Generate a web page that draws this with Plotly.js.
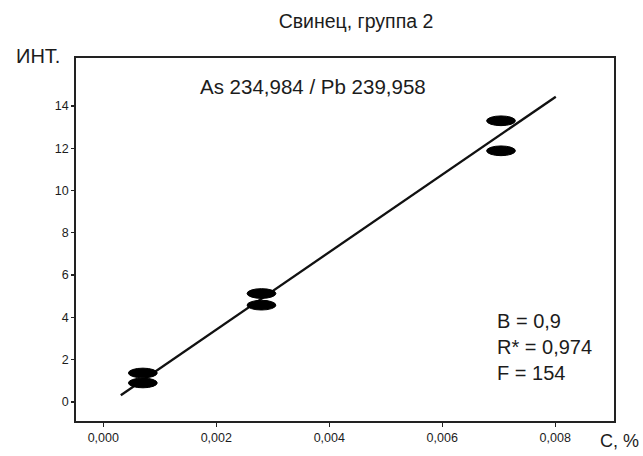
<!DOCTYPE html>
<html>
<head>
<meta charset="utf-8">
<script src="https://cdn.plot.ly/plotly-3.0.1.min.js"></script>
<style>
html,body{margin:0;padding:0;background:#fff;}
#chart{width:643px;height:456px;}
</style>
</head>
<body>
<div id="chart"></div>
<script>
// ---- data ----
const concX = [0.0007, 0.0007, 0.0028, 0.0028, 0.00704, 0.00704];   // C, %
const intY  = [1.37, 0.90, 5.13, 4.58, 13.30, 11.88];             // ИНТ.
const fitX  = [0.00031, 0.00801];                                // regression line ends
const fitY  = [0.32, 14.44];
const xTickVals = [0, 0.002, 0.004, 0.006, 0.008];
const xTickText = ['0,000', '0,002', '0,004', '0,006', '0,008'];
const yTickVals = [0, 2, 4, 6, 8, 10, 12, 14];
const yTickText = ['0', '2', '4', '6', '8', '10', '12', '14'];
const titleText = 'Свинец, группа 2';
const yLabel = 'ИНТ.';
const xLabel = 'C, %';
const lineLabel = 'As 234,984 / Pb 239,958';
const statLines = ['B = 0,9', 'R* = 0,974', 'F = 154'];

// ---- styling ----
const FONT = 'Liberation Sans, Arial, sans-serif';
const INK = '#1c1c1c';
const ELL_HALF_W = 0.000255;  // ellipse marker half-width (data units of x)
const ELL_HALF_H = 0.23;      // ellipse marker half-height (data units of y)

const traces = [
  {
    x: fitX, y: fitY, type: 'scatter', mode: 'lines',
    line: {color: '#111', width: 2.3}, hoverinfo: 'skip', showlegend: false
  },
  {
    x: concX, y: intY, type: 'scatter', mode: 'markers',
    marker: {color: '#000', size: 9, symbol: 'circle', line: {width: 0}},
    showlegend: false
  }
];

const shapes = concX.map((cx, i) => ({
  type: 'circle', xref: 'x', yref: 'y',
  x0: cx - ELL_HALF_W, x1: cx + ELL_HALF_W,
  y0: intY[i] - ELL_HALF_H, y1: intY[i] + ELL_HALF_H,
  fillcolor: '#000', line: {color: '#000', width: 1}, layer: 'above'
}));

const statY = [321, 347, 373];
const plotTop = 58, plotBottom = 420.7, plotLeft = 76, plotRight = 614;
const toPy = (py) => (plotBottom - py) / (plotBottom - plotTop);
const toPx = (px) => (px - plotLeft) / (plotRight - plotLeft);

const annotations = [
  {text: yLabel, xref: 'paper', yref: 'paper', x: toPx(38), y: toPy(56),
   xanchor: 'center', yanchor: 'middle', showarrow: false,
   font: {family: FONT, size: 20, color: INK}},
  {text: xLabel, xref: 'paper', yref: 'paper', x: toPx(619), y: toPy(441),
   xanchor: 'center', yanchor: 'middle', showarrow: false,
   font: {family: FONT, size: 18, color: INK}},
  {text: lineLabel, xref: 'paper', yref: 'paper', x: toPx(313), y: toPy(86),
   xanchor: 'center', yanchor: 'middle', showarrow: false,
   font: {family: FONT, size: 20.5, color: INK}}
].concat(statLines.map((t, i) => ({
  text: t, xref: 'paper', yref: 'paper', x: toPx(495), y: toPy(statY[i]),
  xanchor: 'left', yanchor: 'middle', showarrow: false,
  font: {family: FONT, size: 20, color: INK}
})));

const layout = {
  width: 643, height: 456,
  paper_bgcolor: '#fff', plot_bgcolor: '#fff',
  separators: ', ',
  margin: {l: plotLeft, r: 643 - plotRight, t: plotTop, b: 456 - plotBottom, pad: 0},
  title: {
    text: titleText, xref: 'container', yref: 'container',
    x: 356 / 643, y: 1 - 21.5 / 456, xanchor: 'center', yanchor: 'middle',
    font: {family: FONT, size: 19.5, color: INK}
  },
  xaxis: {
    range: [-0.000483, 0.00904], showgrid: false, zeroline: false,
    showline: true, mirror: true, linecolor: '#222', linewidth: 1.8,
    ticks: 'outside', ticklen: 4, tickwidth: 1.3, tickcolor: '#222',
    tickvals: xTickVals, ticktext: xTickText,
    tickfont: {family: FONT, size: 12.5, color: INK}
  },
  yaxis: {
    range: [-0.9, 16.27], showgrid: false, zeroline: false,
    showline: true, mirror: true, linecolor: '#222', linewidth: 1.8,
    ticks: 'outside', ticklen: 3, tickwidth: 1.3, tickcolor: '#222',
    tickvals: yTickVals, ticktext: yTickText,
    tickfont: {family: FONT, size: 12.5, color: INK}
  },
  shapes: shapes,
  annotations: annotations,
  showlegend: false
};

Plotly.newPlot('chart', traces, layout, {displayModeBar: false, staticPlot: true});
</script>
</body>
</html>
